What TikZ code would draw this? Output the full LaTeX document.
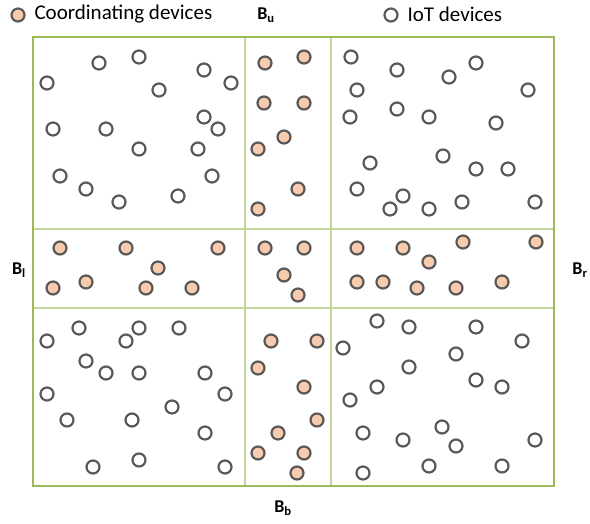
\documentclass[tikz,border=0pt]{standalone}
\usepackage{fontspec}
\setmainfont{Carlito}
\usepackage{tikz}

\definecolor{frameGreen}{HTML}{9BBB59}
\definecolor{gridGreen}{HTML}{C3D69B}
\definecolor{rimGray}{HTML}{595959}
\definecolor{peach}{HTML}{F8CBAD}

\tikzset{
  iot/.style={circle, draw=rimGray, line width=2.2pt, fill=white, minimum size=13pt, inner sep=0pt},
  coord/.style={iot, fill=peach},
  blabel/.style={font=\fontsize{18}{20}\selectfont\bfseries},
  legend/.style={font=\fontsize{21}{23}\selectfont, anchor=west}
}

\begin{document}
\begin{tikzpicture}[x=1pt, y=-1pt]
	\useasboundingbox (0,0) rectangle (590,523);
	% grid of regions
	\draw[gridGreen, line width=1.2pt] (245,37) -- (245,486) (331,37) -- (331,486) (33,229) -- (554,229) (33,308) -- (554,308);
	\draw[frameGreen, line width=2.5pt] (33,37) rectangle (554,486);
	% legend
	\node[coord] (legC) at (18,15) {};
	\node[legend] (legCtext) at (31,14) {Coordinating devices};
	\node[iot] (legI) at (391,15) {};
	\node[legend] (legItext) at (404,14) {IoT devices};
	% boundary labels
	\node[blabel] (bu) at (266,15) {B$_\mathbf{u}$};
	\node[blabel] (bl) at (19,270) {B$_\mathbf{l}$};
	\node[blabel] (br) at (580,270) {B$_\mathbf{r}$};
	\node[blabel] (bb) at (283,508) {B$_\mathbf{b}$};
	% IoT devices
	\foreach \x/\y [count=\i] in {99/63, 139/57, 47/83, 159/90, 204/70, 231/83, 53/129, 106/129, 204/117, 218/129, 139/149, 198/149, 60/176, 86/189, 212/176, 119/202, 178/196,
		351/57, 397/70, 476/63, 449/77, 357/90, 528/90, 350/117, 397/109, 429/117, 496/123, 443/156, 370/163, 476/169, 508/169, 357/189, 403/196, 390/209, 429/209, 462/202, 535/202,
		79/328, 139/328, 179/328, 47/341, 126/341, 86/361, 106/373, 139/373, 205/373, 47/394, 225/394, 172/407, 67/420, 132/420, 205/433, 93/467, 139/460, 225/467,
		377/321, 409/327, 476/327, 522/341, 343/348, 456/354, 409/367, 377/387, 476/380, 502/387, 350/400, 442/427, 363/433, 403/440, 456/446, 535/440, 363/473, 429/466, 502/466}
		\node[iot] (iot\i) at (\x,\y) {};
	% coordinating devices
	\foreach \x/\y [count=\i] in {265/63, 304/57, 264/103, 304/103, 284/137, 258/149, 298/189, 258/209,
		60/248, 126/248, 218/248, 158/268, 53/288, 86/282, 146/288, 192/288,
		265/248, 304/248, 284/275, 298/295,
		357/248, 403/248, 463/242, 536/242, 429/262, 357/282, 383/282, 417/288, 456/288, 502/282,
		271/341, 317/341, 258/368, 304/387, 317/420, 278/433, 258/453, 304/453, 297/473}
		\node[coord] (cd\i) at (\x,\y) {};
\end{tikzpicture}
\end{document}
